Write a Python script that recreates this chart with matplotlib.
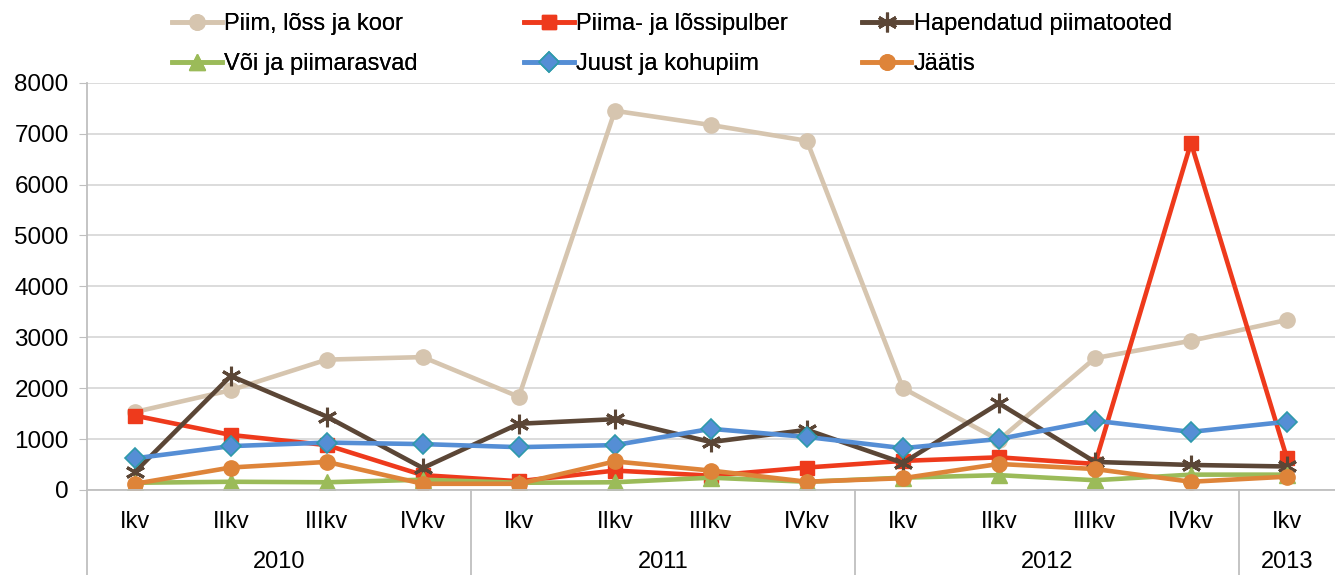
import numpy as np
import matplotlib
matplotlib.use("Agg")
import matplotlib.pyplot as plt

plt.rcParams['font.family'] = ['Liberation Sans', 'DejaVu Sans']

quarters = ['Ikv', 'IIkv', 'IIIkv', 'IVkv', 'Ikv', 'IIkv', 'IIIkv', 'IVkv',
            'Ikv', 'IIkv', 'IIIkv', 'IVkv', 'Ikv']
years = ['2010', '2011', '2012', '2013']
year_len = [4, 4, 4, 1]

piim = [1530, 1960, 2560, 2610, 1830, 7450, 7170, 6860, 2000, 980, 2590, 2930, 3340]
pulber = [1460, 1080, 880, 290, 170, 380, 280, 440, 570, 640, 510, 6820, 620]
hapend = [350, 2240, 1440, 430, 1300, 1390, 940, 1180, 530, 1700, 550, 490, 460]
voi = [140, 160, 150, 200, 140, 150, 240, 160, 240, 290, 190, 300, 300]
juust = [620, 860, 930, 900, 840, 880, 1200, 1040, 820, 1000, 1360, 1140, 1340]
jaatis = [120, 440, 550, 120, 120, 560, 380, 160, 230, 510, 410, 160, 260]

x = np.arange(len(quarters))
fs = 17

fig = plt.figure(figsize=(13.35, 5.75), dpi=100)
ax = fig.add_axes([0.065, 0.148, 0.935, 0.708])

lw = 3.3
h1, = ax.plot(x, piim, color='#D6C5AF', lw=lw, marker='o', ms=11, label='Piim, lõss ja koor')
h2, = ax.plot(x, pulber, color='#EE3A1C', lw=lw, marker='s', ms=10.5, label='Piima- ja lõssipulber')
h3, = ax.plot(x, hapend, color='#5B4636', lw=lw, marker=(6, 2, 0), ms=14, mew=2.2,
              label='Hapendatud piimatooted')
h4, = ax.plot(x, voi, color='#9BBB59', lw=lw, marker='^', ms=12, label='Või ja piimarasvad')
h5, = ax.plot(x, juust, color='#558ED5', lw=lw, marker='D', ms=10, mec='#2E9AAB', mew=1.2,
              label='Juust ja kohupiim')
h6, = ax.plot(x, jaatis, color='#DE8439', lw=lw, marker='o', ms=11, label='Jäätis')

ax.set_xlim(-0.5, len(quarters) - 0.5)
ax.set_ylim(0, 8000)
ax.set_yticks(np.arange(0, 8001, 1000))
ax.tick_params(axis='y', labelsize=17.5, length=6, color='#BFBFBF', pad=7)
ax.grid(axis='y', color='#D9D9D9', lw=1.3)
ax.set_axisbelow(True)
for s in ['top', 'right']:
    ax.spines[s].set_visible(False)
for s in ['left', 'bottom']:
    ax.spines[s].set_color('#BFBFBF')
    ax.spines[s].set_linewidth(1.3)

# two level category axis
ax.set_xticks([])
trans = ax.get_xaxis_transform()
for i, q in enumerate(quarters):
    ax.text(i, -0.08, q, transform=trans, ha='center', va='center', fontsize=fs)
start = 0
bounds = [-0.5]
for yr, n in zip(years, year_len):
    mid = start + (n - 1) / 2
    ax.text(mid, -0.178, yr, transform=trans, ha='center', va='center', fontsize=fs)
    start += n
    bounds.append(start - 0.5)
for b in bounds[:-1]:
    ax.plot([b, b], [0, -0.21], transform=trans, color='#BFBFBF', lw=1.3, clip_on=False)

# legend: three columns placed like the original
cols = [([h1, h4], 0.1255), ([h2, h5], 0.389), ([h3, h6], 0.642)]
for hs, xpos in cols:
    lg = fig.legend(hs, [h.get_label() for h in hs], loc='upper left',
                    bbox_to_anchor=(xpos, 0.985), frameon=False, fontsize=fs,
                    handlelength=2.1, handletextpad=0.1, labelspacing=0.75,
                    borderpad=0.0, borderaxespad=0.2)
    fig.add_artist(lg)

fig.savefig('out.png', dpi=100)
